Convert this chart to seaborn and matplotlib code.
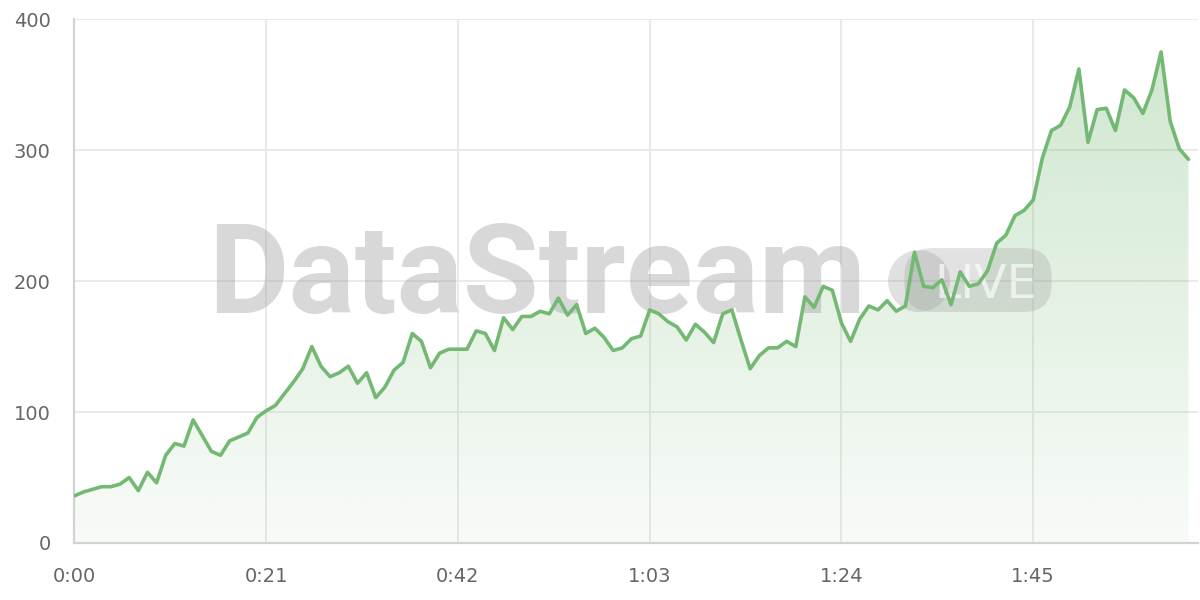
import numpy as np
import matplotlib
matplotlib.use("Agg")
import matplotlib.pyplot as plt
import seaborn as sns
from matplotlib.patches import FancyBboxPatch, Ellipse

# seconds since start, one sample per second
seconds = list(range(123))
values = [36, 39, 41, 43, 43, 45, 50, 40, 54, 46,
          67, 76, 74, 94, 82, 70, 67, 78, 81, 84,
          96, 101, 105, 114, 123, 133, 150, 135, 127, 130,
          135, 122, 130, 111, 119, 132, 138, 160, 154, 134,
          145, 148, 148, 148, 162, 160, 147, 172, 163, 173,
          173, 177, 175, 187, 174, 182, 160, 164, 157, 147,
          149, 156, 158, 178, 175, 169, 165, 155, 167, 161,
          153, 175, 178, 155, 133, 143, 149, 149, 154, 150,
          188, 180, 196, 193, 168, 154, 171, 181, 178, 185,
          177, 181, 222, 196, 195, 201, 182, 207, 196, 198,
          208, 229, 235, 250, 254, 262, 294, 315, 319, 333,
          362, 306, 331, 332, 315, 346, 340, 328, 346, 375,
          322, 301, 293]
tick_secs = [0, 21, 42, 63, 84, 105]
tick_labels = ["0:00", "0:21", "0:42", "1:03", "1:24", "1:45"]
y_ticks = [0, 100, 200, 300, 400]

green = "#74b973"

sns.set_style("white")
plt.rcParams['font.family'] = ['DejaVu Sans']

fig, ax = plt.subplots(figsize=(12, 6), dpi=100)
fig.subplots_adjust(left=0.062, right=0.998, bottom=0.095, top=0.968)

ax.set_xlim(0, 123)
ax.set_ylim(0, 400)

# grid
ax.set_xticks(tick_secs)
ax.set_xticklabels(tick_labels)
ax.set_yticks(y_ticks)
ax.grid(True, color="#e8e8e8", linewidth=1.3, zorder=0)
ax.set_axisbelow(True)
for s in ["top", "right"]:
    ax.spines[s].set_visible(False)
for s in ["left", "bottom"]:
    ax.spines[s].set_color("#d2d2d2")
    ax.spines[s].set_linewidth(1.6)
ax.tick_params(axis="both", length=11, width=1.3, color="#e8e8e8",
               labelcolor="#666666", labelsize=14, pad=6)

# gradient fill under the line
poly = ax.fill_between(seconds, values, 0, color="none", linewidth=0)
grad = np.zeros((256, 1, 4))
grad[:, 0, 0:3] = matplotlib.colors.to_rgb(green)
grad[:, 0, 3] = np.linspace(0.05, 0.36, 256)
img = ax.imshow(grad, extent=[0, 123, 0, 400], origin="lower",
                aspect="auto", zorder=1)
img.set_clip_path(poly.get_paths()[0], transform=ax.transData)

# watermark
ax.text(0.119, 0.439, "DataStream", transform=ax.transAxes, ha="left",
        va="baseline", fontsize=89, fontweight="bold", family=["Roboto"],
        color="#999999", alpha=0.38, zorder=2)
ax.add_patch(Ellipse((0.752, 0.5), 2 * 31 / 1124, 2 * 31 / 524,
                     transform=ax.transAxes, facecolor="#999999",
                     alpha=0.3, edgecolor="none", zorder=2))
ax.add_patch(FancyBboxPatch((0.739, 0.441), 0.131, 0.122,
                            boxstyle="round,pad=0.0,rounding_size=0.025",
                            mutation_aspect=2.145,
                            transform=ax.transAxes, facecolor="#999999",
                            alpha=0.28, edgecolor="none", zorder=2))
ax.text(0.766, 0.468, "LIVE", transform=ax.transAxes, ha="left",
        va="baseline", fontsize=34, color="white", alpha=0.65, zorder=2)

sns.lineplot(x=seconds, y=values, ax=ax, color=green, linewidth=2.6,
             zorder=3)

ax.set_xlabel("")
ax.set_ylabel("")

plt.savefig("out.png", dpi=100)
